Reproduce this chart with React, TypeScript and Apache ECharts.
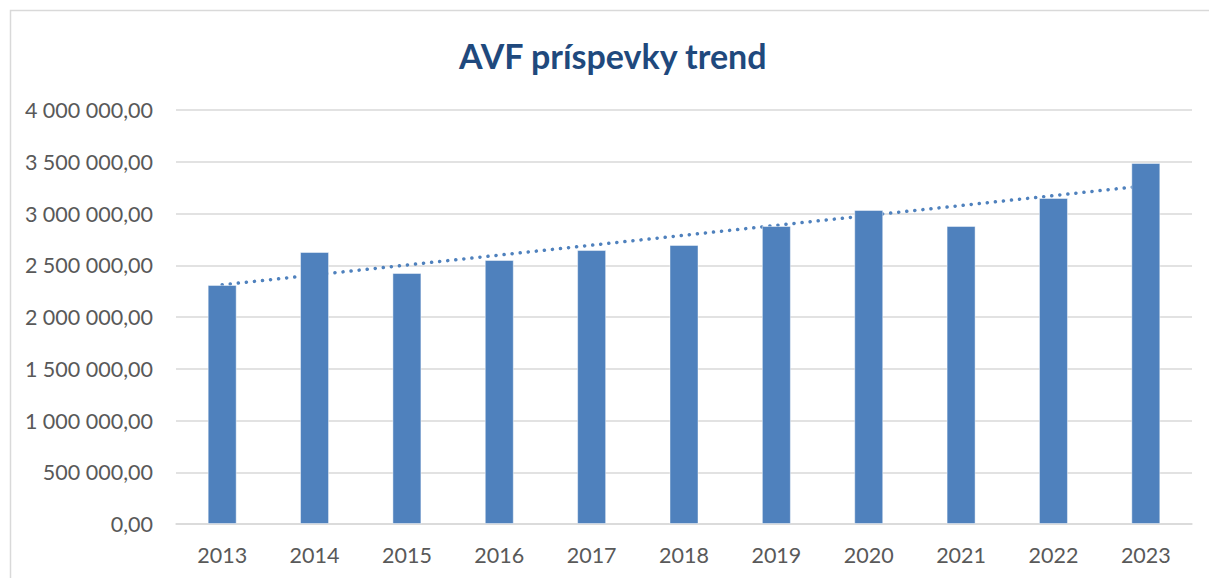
import React, { useEffect, useRef } from "react";
import * as echarts from "echarts";

const categories = ["2013", "2014", "2015", "2016", "2017", "2018", "2019", "2020", "2021", "2022", "2023"];
const contributions = [2310000, 2628000, 2425000, 2551000, 2647000, 2696000, 2879000, 3034000, 2879000, 3150000, 3488000];
const titleText = "AVF príspevky trend";

// Linear (least-squares) trendline over the bar values, like the spreadsheet trendline
function linearTrend(values: number[]): number[] {
  const n = values.length;
  const mx = (n - 1) / 2;
  const my = values.reduce((a, b) => a + b, 0) / n;
  let sxy = 0;
  let sxx = 0;
  values.forEach((v, i) => {
    sxy += (i - mx) * (v - my);
    sxx += (i - mx) * (i - mx);
  });
  const slope = sxy / sxx;
  return values.map((_, i) => my + slope * (i - mx));
}

function fmt(v: number): string {
  const s = Math.round(v).toString().replace(/\B(?=(\d{3})+(?!\d))/g, " ");
  return s + ",00";
}

export default function App() {
  const ref = useRef<HTMLDivElement>(null);
  useEffect(() => {
    if (!ref.current) return;
    const chart = echarts.init(ref.current, undefined, { renderer: "svg" });
    const trend = linearTrend(contributions);
    chart.setOption({
      animation: false,
      backgroundColor: "#ffffff",
      textStyle: { fontFamily: "Lato" },
      title: {
        text: titleText,
        left: 454,
        top: 33,
        textStyle: { fontFamily: "Lato", fontWeight: "bold", fontSize: 34, color: "#1F497D" },
      },
      graphic: [
        {
          type: "rect",
          shape: { x: 10.5, y: 10.5, width: 1250, height: 650 },
          style: { fill: "none", stroke: "#D9D9D9", lineWidth: 1.5 },
          silent: true,
          z: -1,
        },
      ],
      grid: { left: 176, right: 17, top: 110, bottom: 54, containLabel: false },
      xAxis: {
        type: "category",
        data: categories,
        axisLine: { show: true, lineStyle: { color: "#D9D9D9", width: 1.5 } },
        axisTick: { show: false },
        axisLabel: { color: "#595959", fontSize: 21.5, fontFamily: "Lato", margin: 20 },
      },
      yAxis: {
        type: "value",
        min: 0,
        max: 4000000,
        interval: 500000,
        axisLine: { show: false },
        axisTick: { show: false },
        splitLine: { lineStyle: { color: "#D9D9D9", width: 1.5 } },
        axisLabel: { color: "#595959", fontSize: 21.5, fontFamily: "Lato", margin: 23, formatter: fmt },
      },
      series: [
        {
          type: "line",
          data: trend,
          symbol: "none",
          z: 1,
          lineStyle: { color: "#4F81BD", width: 3.5, type: [0.1, 8], cap: "round" },
        },
        {
          type: "bar",
          data: contributions,
          barWidth: 29,
          z: 2,
          itemStyle: { color: "#4F81BD", borderColor: "rgba(255,255,255,0.45)", borderWidth: 1 },
        },
      ],
    });
    return () => chart.dispose();
  }, []);
  return (
    <div
      ref={ref}
      style={{ position: "fixed", left: 0, top: 0, width: 1209, height: 578 }}
    />
  );
}
